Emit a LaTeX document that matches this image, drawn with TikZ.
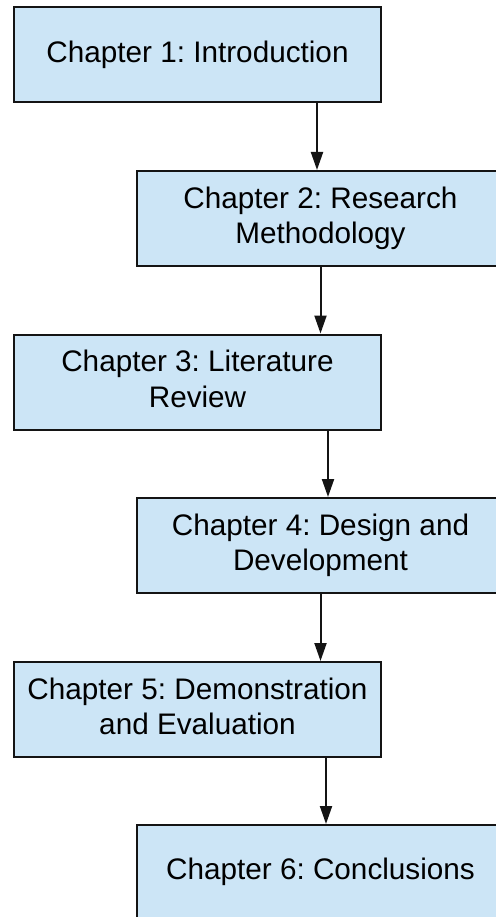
\documentclass[tikz,border=0pt]{standalone}
\usepackage{fontspec}
\setmainfont{Liberation Sans}
\usetikzlibrary{arrows.meta}
\definecolor{boxfill}{RGB}{204,229,246}
\definecolor{edge}{RGB}{20,20,20}
\tikzset{
  chapter/.style={draw=edge, line width=2pt, fill=boxfill, rectangle,
    minimum width=367pt, minimum height=95pt, inner sep=0pt,
    text depth=6.8pt,
    align=center, text=black, font=\fontsize{29.7}{35.5}\selectfont\frenchspacing},
  flow/.style={draw=edge, line width=2pt,
    -{Triangle[length=18pt,width=12pt]}}
}
\begin{document}
\begin{tikzpicture}[x=1pt,y=-1pt]
  \useasboundingbox (0,0) rectangle (495,917);
  % chapter boxes, alternating left and right columns
  \node[chapter] (b1) at (197.5,55)    {Chapter 1: Introduction};
  \node[chapter] (b2) at (320.5,218.5) {Chapter 2: Research\\Methodology};
  \node[chapter] (b3) at (197.5,382)   {Chapter 3: Literature\\Review};
  \node[chapter] (b4) at (320.5,545.5) {Chapter 4: Design and\\Development};
  \node[chapter] (b5) at (197.5,709.5) {Chapter 5: Demonstration\\and Evaluation};
  \node[chapter] (b6) at (320.5,872.5) {Chapter 6: Conclusions};
  % start points of the connectors
  \coordinate (a1) at ([xshift=119.5]b1.south);
  \coordinate (a2) at ([xshift=0]b2.south);
  \coordinate (a3) at ([xshift=130.5]b3.south);
  \coordinate (a4) at ([xshift=0]b4.south);
  \coordinate (a5) at ([xshift=128.5]b5.south);
  \draw[flow] (a1) -- (a1 |- b2.north);
  \draw[flow] (a2) -- (a2 |- b3.north);
  \draw[flow] (a3) -- (a3 |- b4.north);
  \draw[flow] (a4) -- (a4 |- b5.north);
  \draw[flow] (a5) -- (a5 |- b6.north);
\end{tikzpicture}
\end{document}
